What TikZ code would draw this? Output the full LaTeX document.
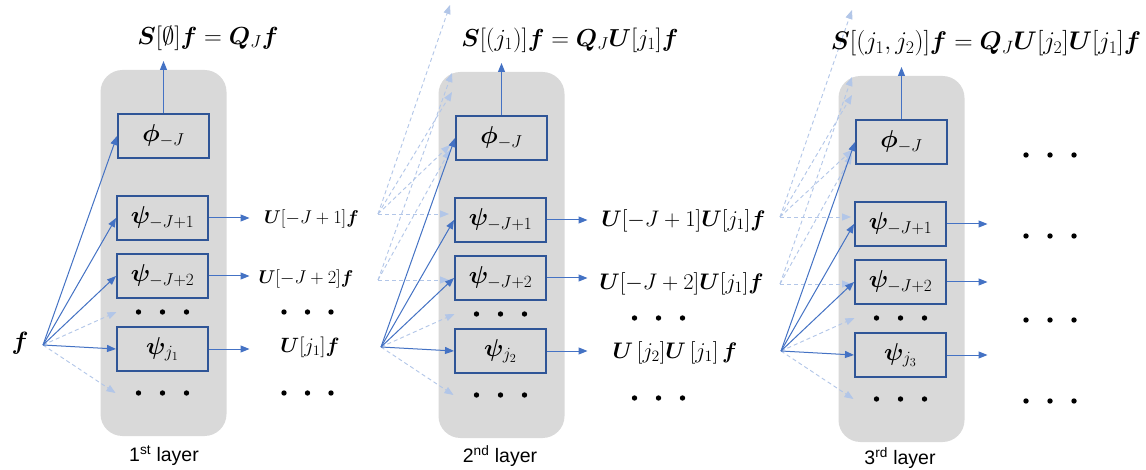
\documentclass[tikz,border=0pt]{standalone}
\usepackage{fix-cm}
\usepackage{amsmath}
\usepackage{bm}
\usepackage{fontspec}
\newfontfamily\labfont{Liberation Sans}
\usetikzlibrary{arrows.meta}
\definecolor{blueA}{RGB}{68,114,196}
\definecolor{boxB}{RGB}{47,85,151}
\definecolor{grayfill}{RGB}{217,217,217}
\definecolor{lightB}{RGB}{178,198,232}
\tikzset{
  fbox/.style={draw=boxB, line width=2pt, minimum width=91pt, minimum height=44pt, inner sep=0pt, font=\fontsize{24.5}{28}\selectfont},
  barrow/.style={draw=blueA, line width=1pt, -{Triangle[length=9pt,width=7pt]}},
  darrow/.style={draw=lightB, line width=0.9pt, dash pattern=on 4pt off 3pt, -{Triangle[length=9pt,width=7pt,fill=lightB]}},
  mlab/.style={font=\fontsize{20.7}{24}\selectfont, inner sep=0pt},
  m2lab/.style={font=\fontsize{22.5}{26}\selectfont, inner sep=0pt},
  slab/.style={font=\fontsize{18.5}{22}\selectfont, inner sep=0pt},
  tlab/.style={font=\fontsize{25.5}{29}\selectfont, inner sep=0pt},
  llab/.style={font=\labfont\fontsize{19.5}{23}\selectfont, inner sep=0pt},
  bdot/.style={fill=black},
}
\newcommand{\layerbg}[2]{%
  \fill[grayfill,rounded corners=22pt] (#1-63,#2-66) rectangle (#1+63,#2+300);
}
\newcommand{\layerfg}[4]{%
  \node[fbox] (#1phi) at (#2,#3) {$\bm{\phi}_{-J}$};
  \node[fbox] (#1pa) at (#2-1,#3+82) {$\bm{\psi}_{-J+1}$};
  \node[fbox] (#1pb) at (#2-1,#3+140) {$\bm{\psi}_{-J+2}$};
  \node[fbox] (#1pj) at (#2-1,#3+213) {$\bm{\psi}_{#4}$};
  \foreach \dx in {-25,-1,23} {
    \fill[bdot] (#2+\dx,#3+176) circle (2.7);
    \fill[bdot] (#2+\dx,#3+257) circle (2.7);
  }
  \coordinate (#1src) at (#2-120.5,#3+209);
  \coordinate (#1da) at (#2-47,#3+176);
  \coordinate (#1db) at (#2-48,#3+257);
  \coordinate (#1up) at (#2,#3-75);
  \coordinate (#1oa) at (#2+86,#3+82);
  \coordinate (#1ob) at (#2+86,#3+140);
  \coordinate (#1oj) at (#2+86,#3+213);
  \draw[darrow] (#1src) -- (#1da);
  \draw[darrow] (#1src) -- (#1db);
  \draw[barrow] (#1src) -- (#1phi.west);
  \draw[barrow] (#1src) -- (#1pa.west);
  \draw[barrow] (#1src) -- (#1pb.west);
  \draw[barrow] (#1src) -- (#1pj.west);
  \draw[barrow] (#1phi.north) -- (#1up);
  \draw[barrow] (#1pa.east) -- (#1oa);
  \draw[barrow] (#1pb.east) -- (#1ob);
  \draw[barrow] (#1pj.east) -- (#1oj);
}
\begin{document}
\begin{tikzpicture}[x=1pt,y=-1pt]
\useasboundingbox (0,0) rectangle (1146,470);
\fill[white] (0,0) rectangle (1146,470);
\layerbg{163.5}{136}
\layerbg{501.5}{138}
\layerbg{901.5}{142}
% inter-layer dashed arrows
\coordinate (s2a) at (378,214);
\coordinate (s2b) at (378,280);
\coordinate (s3a) at (780,217);
\coordinate (s3b) at (780,284);
\foreach \t in {(449,214),(450,145),(452,92),(450,5)} \draw[darrow] (s2a) -- \t;
\foreach \t in {(449,280),(450,150),(452,73)} \draw[darrow] (s2b) -- \t;
\foreach \t in {(851,217),(852,150),(852,95),(852,10)} \draw[darrow] (s3a) -- \t;
\foreach \t in {(851,284),(852,155),(852,77)} \draw[darrow] (s3b) -- \t;
\layerfg{A}{163.5}{136}{j_1}
\layerfg{B}{501.5}{138}{j_2}
\layerfg{C}{901.5}{142}{j_3}
% input
\node[font=\fontsize{25}{29}\selectfont, inner sep=0pt] (f) at (20,343) {$\bm{f}$};
% titles
\node[tlab, font=\fontsize{24.7}{28}\selectfont] (t1) at (208,38) {$\bm{S}[\emptyset]\bm{f}=\bm{Q}_J\bm{f}$};
\node[tlab, font=\fontsize{24.6}{28}\selectfont] (t2) at (570,40) {$\bm{S}[(j_1)]\bm{f}=\bm{Q}_J\bm{U}[j_1]\bm{f}$};
\node[tlab] (t3) at (986,43) {$\bm{S}[(j_1,j_2)]\bm{f}=\bm{Q}_J\bm{U}[j_2]\bm{U}[j_1]\bm{f}$};
% layer 1 outputs
\node[slab] (u1a) at (311.5,219) {$\bm{U}[-J+1]\bm{f}$};
\node[slab] (u1b) at (306,279) {$\bm{U}[-J+2]\bm{f}$};
\node[mlab] (u1c) at (310,347) {$\bm{U}[j_1]\bm{f}$};
\foreach \x in {284,307.5,331} {\fill[bdot] (\x,312) circle (2.7); \fill[bdot] (\x,393) circle (2.7);}
% layer 2 outputs
\node[m2lab] (u2a) at (683.5,221) {$\bm{U}[-J+1]\bm{U}[j_1]\bm{f}$};
\node[m2lab] (u2b) at (681.5,284) {$\bm{U}[-J+2]\bm{U}[j_1]\bm{f}$};
\node[m2lab] (u2c) at (675,353) {$\bm{U}\,[j_2]\bm{U}\,[j_1]\,\bm{f}$};
\foreach \x in {634.5,658.5,682.5} {\fill[bdot] (\x,318) circle (2.7); \fill[bdot] (\x,398) circle (2.7);}
% layer 3 outputs
\foreach \y in {155,236,320,401} {\foreach \x in {1026,1050,1074} {\fill[bdot] (\x,\y) circle (2.7);}}
% layer labels
\node[llab] (n1) at (164,456) {1\textsuperscript{st} layer};
\node[llab] (n2) at (500,456) {2\textsuperscript{nd} layer};
\node[llab] (n3) at (900,458) {3\textsuperscript{rd} layer};
\end{tikzpicture}
\end{document}
